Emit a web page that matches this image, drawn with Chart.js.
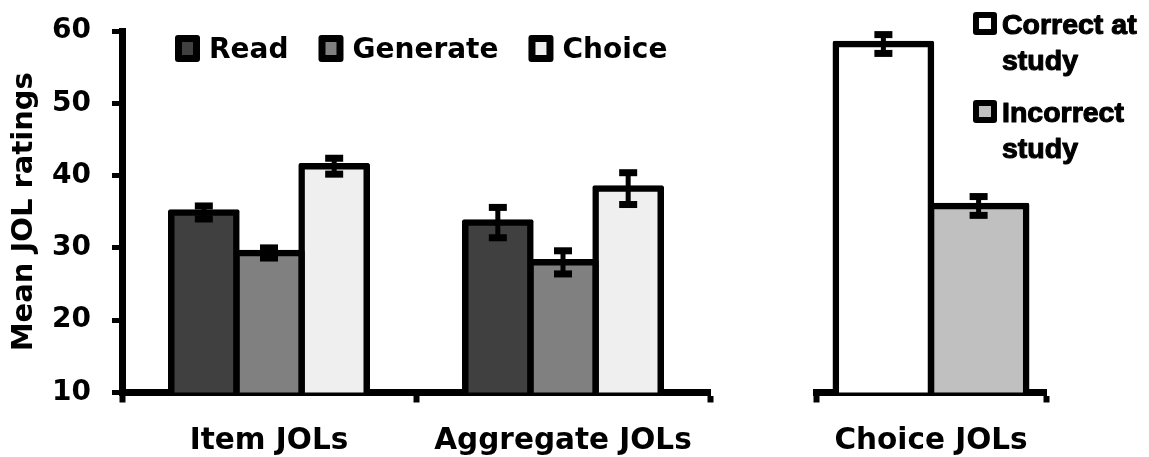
<!DOCTYPE html>
<html>
<head>
<meta charset="utf-8">
<script src="https://cdn.jsdelivr.net/npm/chart.js@4.4.1/dist/chart.umd.min.js"></script>
<style>
  html, body { margin: 0; padding: 0; background: #fff; }
  #wrap { position: relative; width: 1149px; height: 457px; overflow: hidden; background: #fff; }
  canvas { position: absolute; top: 0; }
  #jolLeft { left: 0; }
  #jolRight { left: 720px; }
</style>
</head>
<body>
<div id="wrap">
  <canvas id="jolLeft" width="720" height="457"></canvas>
  <canvas id="jolRight" width="429" height="457"></canvas>
</div>
<script>
// ---- data ----
const groupLabels = ['Item JOLs', 'Aggregate JOLs'];
const conditionNames = ['Read', 'Generate', 'Choice'];
const readMeans = [34.9, 33.5];
const readErrors = [0.9, 2.1];
const generateMeans = [29.3, 28.0];
const generateErrors = [0.7, 1.6];
const choiceMeans = [41.3, 38.2];
const choiceErrors = [1.1, 2.2];

const choiceJolLabels = ['Choice JOLs'];
const studyNames = ['Correct at study', 'Incorrect study'];
const correctMeans = [58.2];
const correctErrors = [1.3];
const incorrectMeans = [35.8];
const incorrectErrors = [1.3];

const yMin = 10, yMax = 60, yStep = 10;
const yTitle = 'Mean JOL ratings';

// ---- shared styling ----
const FONT = 'DejaVu Sans';
const BORDER = 6.5;
const INK = '#000000';

function barDataset(label, data, errors, fill) {
  return {
    label, data, errors,
    backgroundColor: fill,
    borderColor: INK,
    borderWidth: BORDER,
    borderSkipped: false,
    borderRadius: 2,
    inflateAmount: BORDER / 2,
    barPercentage: 1
  };
}

// vertical error bars with square caps
const errorBars = {
  id: 'errorBars',
  afterDatasetsDraw(chart) {
    const ctx = chart.ctx, y = chart.scales.y;
    chart.data.datasets.forEach((ds, i) => {
      const meta = chart.getDatasetMeta(i);
      if (!ds.errors || meta.hidden) return;
      meta.data.forEach((bar, j) => {
        const v = ds.data[j], e = ds.errors[j];
        const top = y.getPixelForValue(v + e);
        const bot = y.getPixelForValue(v - e);
        ctx.save();
        ctx.fillStyle = INK;
        ctx.fillRect(bar.x - 2.5, top, 5, bot - top);
        ctx.fillRect(bar.x - 9, top - 3.5, 18, 7);
        ctx.fillRect(bar.x - 9, bot - 3.5, 18, 7);
        ctx.restore();
      });
    });
  }
};

// legend with heavy black-framed swatches; text wraps at maxWidth
const boxLegend = {
  id: 'boxLegend',
  afterDraw(chart, args, o) {
    if (!o || !o.display) return;
    const ctx = chart.ctx;
    ctx.save();
    ctx.font = `bold ${o.fontSize}px ${o.family}`;
    ctx.textAlign = 'left';
    ctx.textBaseline = 'alphabetic';
    ctx.lineJoin = 'round';
    let x = o.x, y = o.y;
    chart.data.datasets.forEach((ds) => {
      const words = ds.label.split(' ');
      const lines = [];
      let cur = '';
      words.forEach(w => {
        const test = cur ? cur + ' ' + w : w;
        if (cur && ctx.measureText(test).width > o.maxWidth) { lines.push(cur); cur = w; }
        else cur = test;
      });
      if (cur) lines.push(cur);

      ctx.fillStyle = INK;
      ctx.beginPath();
      ctx.roundRect(x, y, o.boxW, o.boxH, 3);
      ctx.fill();
      ctx.fillStyle = ds.backgroundColor;
      ctx.fillRect(x + o.insetX, y + o.insetY, o.boxW - 2 * o.insetX, o.boxH - 2 * o.insetY);

      ctx.fillStyle = INK;
      ctx.strokeStyle = INK;
      ctx.lineWidth = o.stroke || 0;
      const tx = x + o.boxW + o.textGap;
      let w = 0;
      lines.forEach((ln, k) => {
        const ty = y + o.baseline + k * o.lineHeight;
        ctx.fillText(ln, tx, ty);
        if (o.stroke) ctx.strokeText(ln, tx, ty);
        w = Math.max(w, ctx.measureText(ln).width);
      });
      if (o.direction === 'row') {
        x = tx + w + o.itemGap;
      } else {
        y += o.itemStep;
      }
    });
    ctx.restore();
  }
};

Chart.register(errorBars, boxLegend);

const tickFontX = { family: FONT, weight: 'bold', size: 29.5 };

function xScale(hideLastTick) {
  return {
    type: 'category',
    offset: true,
    grid: {
      offset: true,
      drawOnChartArea: false,
      drawTicks: true,
      tickLength: 10,
      tickWidth: 6,
      tickColor: (c) => (hideLastTick && c.index === 2) ? 'rgba(0,0,0,0)' : INK
    },
    border: { display: true, color: INK, width: 7 },
    ticks: { font: tickFontX, color: INK, padding: 21, maxRotation: 0, autoSkip: false },
    afterFit: (s) => { s.height = 64.5; s.paddingLeft = 0; s.paddingRight = 0; }
  };
}

const baseOptions = {
  responsive: false,
  animation: false,
  devicePixelRatio: 1,
  events: [],
  plugins: { legend: { display: false }, tooltip: { enabled: false }, title: { display: false } }
};

// ---- left panel: item and aggregate JOLs ----
new Chart(document.getElementById('jolLeft'), {
  type: 'bar',
  data: {
    labels: groupLabels,
    datasets: [
      barDataset(conditionNames[0], readMeans, readErrors, '#404040'),
      barDataset(conditionNames[1], generateMeans, generateErrors, '#808080'),
      barDataset(conditionNames[2], choiceMeans, choiceErrors, '#efefef')
    ].map(d => Object.assign(d, { categoryPercentage: 0.665 }))
  },
  options: Object.assign({}, baseOptions, {
    layout: { padding: { left: 0, right: 10, top: 31, bottom: 0 } },
    scales: {
      x: xScale(true),
      y: {
        min: yMin, max: yMax,
        ticks: { stepSize: yStep, font: { family: FONT, weight: 'bold', size: 28 }, color: INK, padding: 21 },
        grid: { drawOnChartArea: false, drawTicks: true, tickLength: 10, tickWidth: 5, tickColor: INK },
        border: { display: true, color: INK, width: 7 },
        title: {
          display: true, text: yTitle, color: INK,
          font: { family: FONT, weight: 'bold', size: 29 },
          padding: { top: 7, bottom: 0 }
        },
        afterFit: (s) => { s.width = 122; s.paddingTop = 0; s.paddingBottom = 0; }
      }
    },
    plugins: Object.assign({}, baseOptions.plugins, {
      boxLegend: {
        display: true, direction: 'row', family: '"DejaVu Sans"',
        x: 175, y: 35, boxW: 25, boxH: 27, insetX: 7, insetY: 7,
        textGap: 9, itemGap: 30, baseline: 22.5, lineHeight: 35,
        fontSize: 28, maxWidth: 1000
      }
    })
  })
});

// ---- right panel: choice JOLs by study accuracy ----
new Chart(document.getElementById('jolRight'), {
  type: 'bar',
  data: {
    labels: choiceJolLabels,
    datasets: [
      barDataset(studyNames[0], correctMeans, correctErrors, '#ffffff'),
      barDataset(studyNames[1], incorrectMeans, incorrectErrors, '#c0c0c0')
    ].map(d => Object.assign(d, { categoryPercentage: 0.828 }))
  },
  options: Object.assign({}, baseOptions, {
    layout: { padding: { left: 96, right: 103, top: 31, bottom: 0 } },
    scales: {
      x: xScale(false),
      y: { display: false, min: yMin, max: yMax }
    },
    plugins: Object.assign({}, baseOptions.plugins, {
      boxLegend: {
        display: true, direction: 'column', family: '"Liberation Sans", Arial, sans-serif',
        x: 253, y: 12, boxW: 24, boxH: 23, insetX: 6, insetY: 6,
        textGap: 5, itemStep: 88, baseline: 22, lineHeight: 36,
        fontSize: 28.5, stroke: 1.1, maxWidth: 150
      }
    })
  })
});
</script>
</body>
</html>
